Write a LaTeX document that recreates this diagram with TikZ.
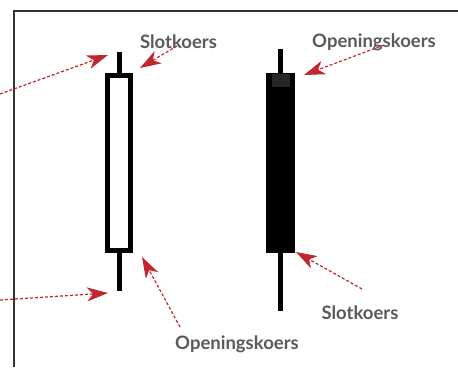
\documentclass[tikz,border=0pt]{standalone}
\usepackage{fontspec}
\setmainfont{Lato}
\usetikzlibrary{arrows.meta}
\definecolor{arrowred}{HTML}{C1272D}
\definecolor{labelgrey}{HTML}{5A5A5A}
\definecolor{framegrey}{HTML}{333333}
\definecolor{capgrey}{HTML}{2A2526}
\begin{document}
\begin{tikzpicture}[x=1pt,y=-1pt,
  lbl/.style={font=\bfseries\fontsize{18.5}{18.5}\selectfont, text=labelgrey, inner sep=0pt},
  ptr/.style={draw=arrowred, line width=1.2pt, dash pattern=on 3pt off 2pt,
    -{Stealth[length=21pt,width=14pt,inset=6pt,fill=arrowred]}},
  wick/.style={draw=black, line width=5pt},
  framestyle/.style={draw=framegrey, line width=1.5pt}]
\useasboundingbox (0,0) rectangle (458,367);
\fill[white] (0,0) rectangle (458,367);
\draw[framestyle] (14,367) -- (14,11) -- (458,11);

% white candle
\node[draw=black, line width=5pt, fill=white, minimum width=23pt, minimum height=175pt, inner sep=0pt] (wbody) at (119,163) {};
\coordinate (wtop) at (119,52);
\coordinate (wbot) at (119,291);
\draw[wick] (wbody.north) -- (wtop);
\draw[wick] (wbody.south) -- (wbot);

% black candle
\node[fill=black, minimum width=29pt, minimum height=180pt, inner sep=0pt] (bbody) at (280.5,163) {};
\coordinate (btop) at (280,49);
\coordinate (bbot) at (280,311);
\draw[wick] (280,73) -- (btop);
\draw[wick] (280,253) -- (bbot);
\node[fill=capgrey, minimum width=18pt, minimum height=13pt, inner sep=0pt] (bcap) at (281,80.5) {};

% labels
\node[lbl] (slot1) at (178.5,42) {Slotkoers};
\node[lbl] (open1) at (374,42) {Openingskoers};
\node[lbl] (slot2) at (360,313) {Slotkoers};
\node[lbl] (open2) at (237,344) {Openingskoers};

% arrow ends
\coordinate (s1) at (0,94);
\coordinate (t1) at (108,55);
\coordinate (s2) at (177,46);
\coordinate (t2) at (140,68);
\coordinate (s3) at (0,300);
\coordinate (t3) at (108,293);
\coordinate (s4) at (180,327);
\coordinate (t4) at (142,257);
\coordinate (s5) at (384,45);
\coordinate (t5) at (304,75);
\coordinate (s6) at (362,289);
\coordinate (t6) at (296,252);

\draw[ptr] (s1) -- (t1);
\draw[ptr] (s2) -- (t2);
\draw[ptr] (s3) -- (t3);
\draw[ptr] (s4) -- (t4);
\draw[ptr] (s5) -- (t5);
\draw[ptr] (s6) -- (t6);
\end{tikzpicture}
\end{document}
